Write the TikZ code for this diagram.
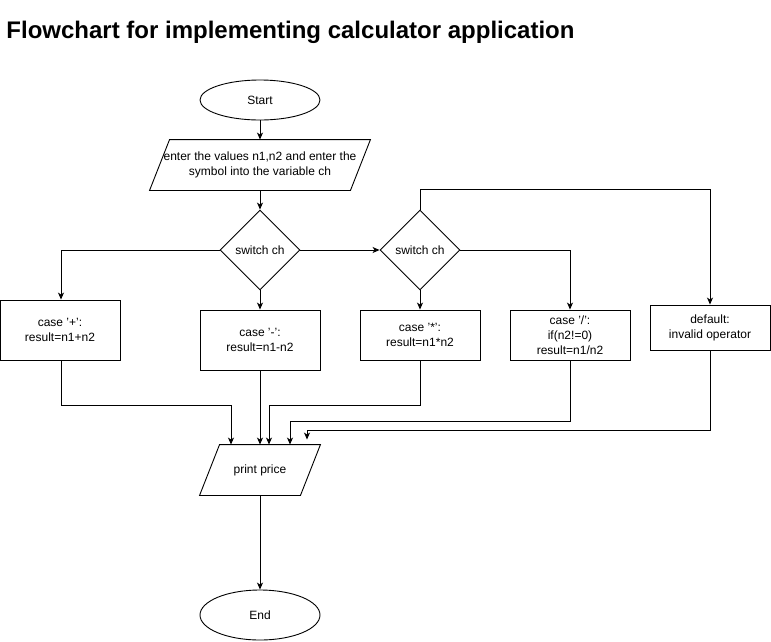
\documentclass[tikz,border=0pt]{standalone}
\usepackage{fontspec}
\setmainfont{Liberation Sans}
\usetikzlibrary{shapes.geometric,arrows.meta}
\begin{document}
\begin{tikzpicture}[x=1pt,y=-1pt,
  every node/.style={font=\fontsize{12}{15}\selectfont, align=center, inner sep=0pt, text=black},
  term/.style={draw, ellipse, minimum width=120pt, minimum height=#1},
  term/.default=40pt,
  dec/.style={draw, diamond, minimum width=80pt, minimum height=80pt},
  box/.style={draw, rectangle, minimum width=120pt, minimum height=#1},
  box/.default=60pt,
  iobox/.style={rectangle, minimum width=#1, minimum height=50pt},
  arr/.style={draw, line width=0.9pt, -{Stealth[length=7pt,width=6pt,inset=2pt]}},
  line width=0.9pt]
\useasboundingbox (0,0) rectangle (771,641);

\node[anchor=base west, font=\fontsize{24}{28}\selectfont\bfseries] (title) at (6,38) {Flowchart for implementing calculator application};

\node[term] (start) at (260,100) {Start};
\node[iobox=220pt] (in) at (260,165) {enter the values n1,n2 and enter the\\symbol into the variable ch};
\draw ([xshift=20pt]in.north west) -- (in.north east) -- ([xshift=-20pt]in.south east) -- (in.south west) -- cycle;

\node[dec] (d1) at (260,250) {switch ch};
\node[dec] (d2) at (420,250) {switch ch};

\node[box] (b1) at (60,330) {case '+':\\result=n1+n2};
\node[box] (b2) at (260,340) {case '-':\\result=n1-n2};
\node[box=50pt] (b3) at (420,335) {case '*':\\result=n1*n2};
\node[box=50pt] (b4) at (570,335) {case '/':\\if(n2!=0)\\result=n1/n2};
\node[box=45pt] (b5) at (710,327.5) {default:\\invalid operator};

\node[iobox=120pt] (pp) at (260,470) {print price};
\draw ([xshift=20pt]pp.north west) -- (pp.north east) -- ([xshift=-20pt]pp.south east) -- (pp.south west) -- cycle;

\node[term=50pt] (end) at (260,615) {End};

\draw[arr] (start.south) -- (in.north);
\draw[arr] (in.south) -- (d1.north);
\draw[arr] (d1.east) -- (d2.west);
\draw[arr] (d1.west) -| ([xshift=1pt]b1.north);
\draw[arr] (d1.south) -- (b2.north);
\draw[arr] (d2.south) -- (b3.north);
\draw[arr] (d2.east) -| (b4.north);
\draw[arr] (d2.north) -- ++(0,-20) -| (b5.north);

\draw[arr] ([xshift=1pt]b1.south) -- ++(0,45) -| ([xshift=-29pt]pp.north);
\draw[arr] (b2.south) -- (pp.north);
\draw[arr] (b3.south) -- ++(0,45) -| ([xshift=9pt]pp.north);
\draw[arr] (b4.south) -- ++(0,61) -| ([xshift=30pt]pp.north);
\draw[arr] (b5.south) -- ++(0,80) -| ([xshift=47pt,yshift=5pt]pp.north);
\draw[arr] (pp.south) -- (end.north);
\end{tikzpicture}
\end{document}
